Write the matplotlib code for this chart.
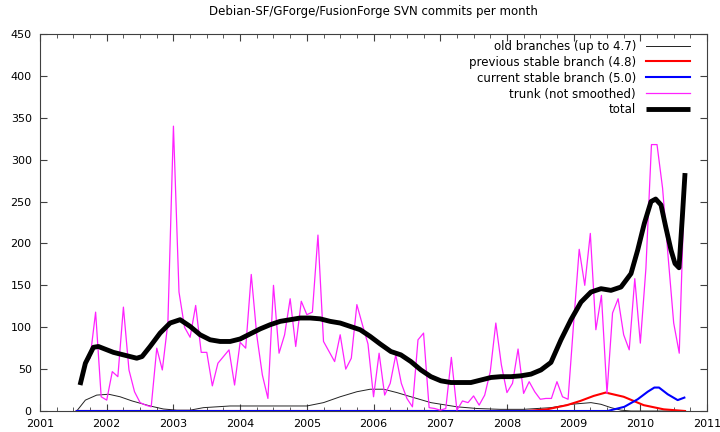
import numpy as np
import matplotlib
matplotlib.use("Agg")
import matplotlib.pyplot as plt
from matplotlib.ticker import MultipleLocator

# trunk commits per month, Sep 2001 .. Sep 2010 (not smoothed)
trunk_start = 2001 + 8 / 12.0
trunk = [
    55, 63, 118, 17,
    13, 47, 41, 124, 49, 23, 10, 7, 5, 75, 49, 105,
    340, 142, 100, 88, 126, 70, 70, 30, 57, 65, 73, 31,
    82, 75, 163, 90, 43, 15, 150, 69, 91, 134, 77, 131,
    115, 118, 210, 83, 71, 59, 91, 50, 63, 127, 103, 80,
    17, 69, 19, 33, 67, 33, 15, 5, 85, 93, 4, 3,
    1, 3, 64, 1, 12, 10, 18, 7, 19, 47, 105, 55,
    22, 33, 74, 21, 35, 23, 14, 15, 15, 35, 17, 14,
    105, 193, 150, 212, 97, 138, 21, 117, 134, 91, 73, 158,
    81, 170, 318, 318, 266, 184, 105, 69, 282,
]

# smoothed series (year, commits)
old_x = [2001.55, 2001.68, 2001.85, 2002.03, 2002.2, 2002.38, 2002.65, 2002.85, 2003.05,
         2003.25, 2003.45, 2003.65, 2003.85, 2004.0, 2004.5, 2005.0, 2005.25, 2005.5,
         2005.75, 2005.95, 2006.15, 2006.35, 2006.56, 2006.86, 2007.25, 2007.55, 2007.9,
         2008.25, 2008.66, 2008.96, 2009.26, 2009.41, 2009.56, 2009.71, 2009.86, 2010.67]
old_y = [0, 13, 19, 20, 17, 12, 6, 2.4, 1, 1, 4, 5, 6, 6, 6, 6, 10, 17,
         23, 26, 26, 22, 17, 10, 5, 3, 2, 2, 4, 8, 10, 8, 4, 1, 0, 0]

prev_x = [2001.55, 2008.3, 2008.6, 2008.9, 2009.1, 2009.3, 2009.48, 2009.75, 2009.9,
          2010.05, 2010.35, 2010.67]
prev_y = [0, 0, 2, 7, 12, 18, 22, 17, 12, 7, 2, 0]

cur_x = [2001.55, 2009.51, 2009.76, 2009.96, 2010.11, 2010.21, 2010.28, 2010.41,
         2010.56, 2010.66]
cur_y = [0, 0, 5, 14, 23, 28, 28, 20, 13, 16]

total_x = [2001.60, 2001.68, 2001.80, 2001.875, 2002.10, 2002.25, 2002.45, 2002.53,
           2002.65, 2002.80, 2002.95, 2003.10, 2003.25, 2003.40, 2003.55, 2003.70,
           2003.85, 2004.00, 2004.15, 2004.30, 2004.45, 2004.60, 2004.75, 2004.90,
           2005.05, 2005.20, 2005.35, 2005.50, 2005.65, 2005.80, 2005.95, 2006.10,
           2006.26, 2006.41, 2006.56, 2006.71, 2006.86, 2007.01, 2007.16, 2007.31,
           2007.46, 2007.61, 2007.76, 2007.91, 2008.06, 2008.21, 2008.36, 2008.51,
           2008.66, 2008.81, 2008.96, 2009.11, 2009.26, 2009.41, 2009.56, 2009.71,
           2009.86, 2009.96, 2010.06, 2010.16, 2010.23, 2010.31, 2010.38, 2010.46,
           2010.52, 2010.58, 2010.63, 2010.67]
total_y = [31, 57, 76, 77, 70, 67, 63, 65, 77, 93, 105, 109, 101, 91, 85, 83,
           83, 86, 92, 98, 103, 107, 109, 111, 111, 110, 107, 105, 101, 97, 89, 80,
           71, 67, 59, 49, 41, 36, 34, 34, 34, 37, 40, 41, 41, 42, 44, 49,
           58, 85, 109, 130, 142, 146, 144, 148, 164, 192, 224, 250, 253, 246, 220, 192,
           176, 171, 232, 284]

trunk_x = trunk_start + np.arange(len(trunk)) / 12.0

plt.rcParams['font.family'] = 'DejaVu Sans'
plt.rcParams['font.size'] = 8

fig = plt.figure(figsize=(7.2, 4.32), dpi=100)
ax = fig.add_axes([0.0556, 0.0486, 0.9264, 0.8727])

ax.plot(old_x, old_y, color='#222222', lw=0.7, label='old branches (up to 4.7)')
ax.plot(prev_x, prev_y, color='#ff0000', lw=1.5, label='previous stable branch (4.8)')
ax.plot(cur_x, cur_y, color='#0000ff', lw=1.5, label='current stable branch (5.0)')
ax.plot(trunk_x, trunk, color='#ff22ff', lw=0.9, label='trunk (not smoothed)')
ax.plot(total_x, total_y, color='black', lw=3.5, solid_joinstyle='round',
        solid_capstyle='butt', label='total')

ax.set_xlim(2001, 2011)
ax.set_ylim(0, 450)
ax.xaxis.set_major_locator(MultipleLocator(1))
ax.xaxis.set_minor_locator(MultipleLocator(0.25))
ax.yaxis.set_major_locator(MultipleLocator(50))
ax.tick_params(which='both', direction='in', top=True, right=True, colors='#404040',
               labelcolor='black')
ax.tick_params(which='major', length=5, pad=6)
ax.tick_params(which='minor', length=3)
for s in ax.spines.values():
    s.set_color('#404040')
    s.set_linewidth(0.8)

ax.set_title('Debian-SF/GForge/FusionForge SVN commits per month', fontsize=8.5, pad=14)

ax.legend(loc='upper right', bbox_to_anchor=(0.975, 0.985), frameon=False,
          markerfirst=False, handlelength=3.8, labelspacing=0.25, borderpad=0,
          borderaxespad=0, fontsize=8.5, handletextpad=0.8)

fig.savefig('out.png', dpi=100)
